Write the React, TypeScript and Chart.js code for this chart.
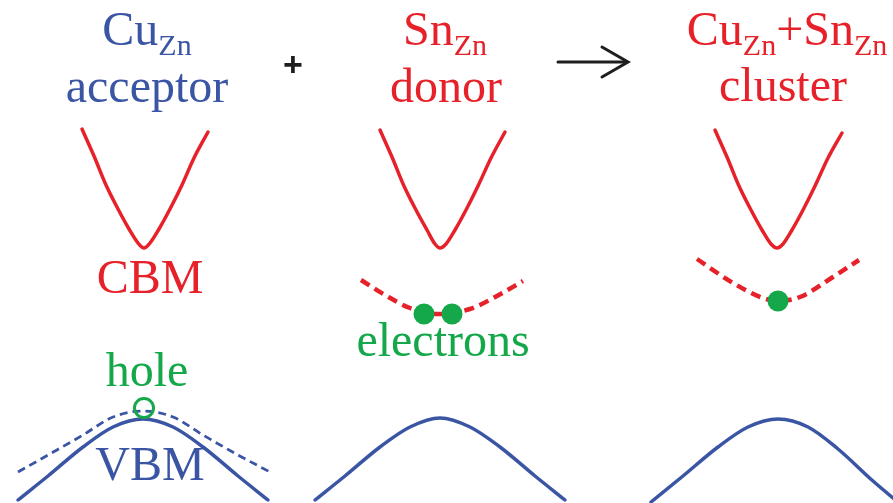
import React, { useEffect, useRef } from "react";
import { Chart, registerables } from "chart.js";

Chart.register(...registerables);

// ---- Data (diagram coordinates: x 0..893, y 0..503 downward) ----
const cbmAcceptor = [[82,129],[94,156],[106,185],[118,209],[129,229],[138,243],[144,248],[150,243],[159,229],[170,209],[182,185],[194,158],[208,132]];
const cbmDonor = [[380,130],[392,157],[404,186],[416,210],[427,230],[435,244],[440,248],[446,244],[455,230],[466,210],[478,186],[491,158],[505,132]];
const cbmCluster = [[715,130],[727,157],[739,186],[751,210],[762,230],[771,244],[777,248],[783,244],[792,230],[803,210],[815,186],[828,158],[842,133]];

const donorLevel = [[361,280],[385,295],[410,308],[438,314],[470,309],[497,296],[523,281]];
const clusterLevel = [[697,259],[733,283],[763,298],[778,301],[800,297],[833,277],[859,260]];

const vbmAcceptor = [[18,500],[48,476],[83,447],[113,427],[143,419],[173,427],[203,447],[238,476],[268,500]];
const acceptorLevel = [[18,472],[48,455],[83,435],[113,417],[143,411],[173,417],[203,435],[238,455],[270,472]];
const vbmDonor = [[315,500],[345,476],[380,447],[410,427],[440,418],[470,427],[500,447],[535,476],[565,500]];
const vbmCluster = [[651,502],[683,476],[718,447],[748,427],[778,419],[808,427],[838,449],[873,481],[905,508]];

const electronDots = [[424,314],[452,314]];
const clusterElectron = [[778,301]];
const holePoint = [[144,408]];

const arrowShaft = [[558,62],[626,62]];
const arrowHead = [[602,47],[628,62],[602,77]];

// Labels (text segments: [text, isSubscript])
const titleCu = [["Cu", false], ["Zn", true]];
const titleSn = [["Sn", false], ["Zn", true]];
const titleCluster = [["Cu", false], ["Zn", true], ["+Sn", false], ["Zn", true]];
const subtitleTexts = ["acceptor", "donor", "cluster"];
const bandTexts = ["CBM", "VBM"];
const carrierTexts = ["electrons", "hole"];

// ---- Styles / layout ----
const RED = "#e62129";
const BLUE = "#3b55a5";
const GREEN = "#14a84a";
const DARK = "#1e1e1e";
const FONT = "'Liberation Serif', 'Times New Roman', serif";
const MAIN_PX = 48;
const SUB_PX = 30;

const pts = (a: number[][]) => a.map(([x, y]) => ({ x, y }));

const curve = (data: number[][], color: string, width: number, dash: number[] = []) => ({
  data: pts(data),
  borderColor: color,
  backgroundColor: color,
  borderWidth: width,
  borderDash: dash,
  borderCapStyle: dash.length ? "butt" : "round",
  borderJoinStyle: "round",
  cubicInterpolationMode: "monotone",
  pointRadius: 0,
  fill: false,
  order: 5,
});

const labelPlugin = {
  id: "labels",
  afterDatasetsDraw(chart: any) {
    const ctx = chart.ctx as CanvasRenderingContext2D;
    const sx = chart.scales.x;
    const sy = chart.scales.y;
    const X = (v: number) => sx.getPixelForValue(v);
    const Y = (v: number) => sy.getPixelForValue(v);

    const rich = (segs: any[], cx: number, base: number, color: string) => {
      ctx.save();
      ctx.fillStyle = color;
      ctx.textBaseline = "alphabetic";
      ctx.textAlign = "left";
      let total = 0;
      const widths = segs.map(([t, sub]) => {
        ctx.font = `${sub ? SUB_PX : MAIN_PX}px ${FONT}`;
        const w = ctx.measureText(t).width;
        total += w;
        return w;
      });
      let x = X(cx) - total / 2;
      segs.forEach(([t, sub], i) => {
        ctx.font = `${sub ? SUB_PX : MAIN_PX}px ${FONT}`;
        ctx.fillText(t, x, Y(base + (sub ? 10 : 0)));
        x += widths[i];
      });
      ctx.restore();
    };
    const text = (t: string, cx: number, base: number, color: string, font = `${MAIN_PX}px ${FONT}`) => {
      ctx.save();
      ctx.fillStyle = color;
      ctx.font = font;
      ctx.textAlign = "center";
      ctx.textBaseline = "alphabetic";
      ctx.fillText(t, X(cx), Y(base));
      ctx.restore();
    };

    rich(titleCu, 147, 45, BLUE);
    rich(titleSn, 445, 45, RED);
    rich(titleCluster, 787, 45, RED);
    text(subtitleTexts[0], 147, 102, BLUE);
    text(subtitleTexts[1], 446, 102, RED);
    text(subtitleTexts[2], 783, 101, RED);
    text("+", 293, 76, DARK, "bold 34px 'Liberation Sans', sans-serif");
    text(bandTexts[0], 150, 293, RED);
    text(bandTexts[1], 150, 480, BLUE);
    text(carrierTexts[0], 443, 356, GREEN);
    text(carrierTexts[1], 147, 386, GREEN);
  },
};

export default function App() {
  const ref = useRef<HTMLCanvasElement>(null);
  useEffect(() => {
    if (!ref.current) return;
    const chart = new Chart(ref.current, {
      type: "line",
      data: {
        datasets: [
          curve(cbmAcceptor, RED, 3.5),
          curve(cbmDonor, RED, 3.5),
          curve(cbmCluster, RED, 3.5),
          curve(donorLevel, RED, 4.5, [10, 6]),
          curve(clusterLevel, RED, 4.5, [10, 6]),
          curve(vbmAcceptor, BLUE, 3.5),
          curve(acceptorLevel, BLUE, 2.8, [8, 5]),
          curve(vbmDonor, BLUE, 3.5),
          curve(vbmCluster, BLUE, 3.5),
          { ...curve(arrowShaft, DARK, 3), cubicInterpolationMode: "default", tension: 0 },
          { ...curve(arrowHead, DARK, 3), cubicInterpolationMode: "default", tension: 0, borderJoinStyle: "miter" },
          {
            data: pts(electronDots.concat(clusterElectron)),
            showLine: false,
            pointRadius: 10.5,
            pointBackgroundColor: GREEN,
            pointBorderColor: GREEN,
            pointBorderWidth: 0,
            order: 0,
          },
          {
            data: pts(holePoint),
            showLine: false,
            pointRadius: 9.5,
            pointBackgroundColor: "rgba(0,0,0,0)",
            pointBorderColor: GREEN,
            pointBorderWidth: 3,
            order: 0,
          },
        ] as any,
      },
      options: {
        animation: false,
        responsive: false,
        layout: { padding: 0, autoPadding: false },
        scales: {
          x: { type: "linear", min: 0, max: 893, display: false },
          y: { type: "linear", min: 0, max: 503, reverse: true, display: false },
        },
        plugins: { legend: { display: false }, tooltip: { enabled: false } },
        events: [],
      },
      plugins: [labelPlugin],
    });
    return () => chart.destroy();
  }, []);
  return (
    <div style={{ position: "fixed", left: 0, top: 0, width: 893, height: 503, background: "#fff" }}>
      <canvas ref={ref} width={893} height={503} style={{ display: "block" }} />
    </div>
  );
}
